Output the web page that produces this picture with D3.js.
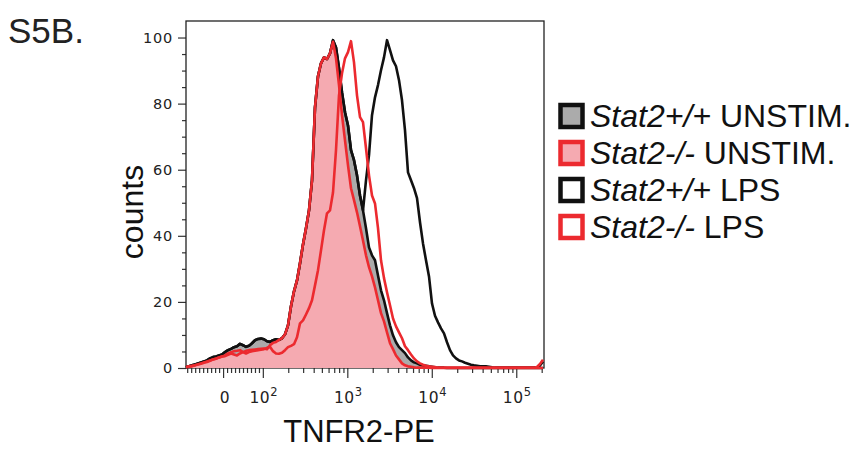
<!DOCTYPE html>
<html><head><meta charset="utf-8">
<script src="https://cdn.jsdelivr.net/npm/d3@7"></script>
<style>body{margin:0;background:#fff}svg{display:block}</style>
</head><body>
<svg id="chart" width="854" height="449"></svg>
<script>
// ---- data (counts per display channel, 3px-wide channels across the logicle axis) ----
const seriesNames = ["Stat2+/+ UNSTIM.", "Stat2-/- UNSTIM.", "Stat2+/+ LPS", "Stat2-/- LPS"];
const genotypes = ["Stat2+/+", "Stat2-/-", "Stat2+/+", "Stat2-/-"];
const conditions = [" UNSTIM.", " UNSTIM.", " LPS", " LPS"];

const wtUnstim = [0.2,0.5,0.8,1.1,1.4,1.7,2.0,2.3,2.9,3.3,3.5,3.8,4.1,4.8,5.4,5.8,6.3,6.6,7.3,6.9,
 6.4,6.7,7.5,8.4,8.8,8.9,8.7,8.1,7.9,8.4,8.7,8.5,9.0,10.2,12.9,18.7,23.2,26.5,31.7,37.4,
 42.3,47.7,56.8,78.9,88.3,92.2,94.0,93.5,95.2,99.2,97.0,90.7,83.4,77.4,73.4,65.9,62.9,58.3,52.2,47.7,
 42.3,36.5,34.1,32.6,28.0,23.5,20.5,16.6,12.9,9.9,7.8,6.3,5.4,4.5,3.2,2.3,1.7,1.4,1.0,0.8,
 0.7,0.5,0.4,0.2,0.1,0.1,0.1,0,0,0,0,0,0,0,0,0,0,0,0,0,
 0,0,0,0,0,0,0,0,0,0,0,0,0,0,0,0,0,0,0,0];
const koUnstim = [0.3,0.5,0.7,0.8,1.1,1.3,1.6,1.8,2.2,2.6,2.8,3.2,3.5,3.6,4.0,4.4,4.1,3.8,4.4,4.8,
 5.2,5.4,5.5,5.6,5.7,5.8,5.9,5.7,6.9,7.6,7.9,8.5,9.0,10.2,12.9,18.7,23.2,26.5,31.7,37.4,
 42.3,47.7,56.8,78.9,88.3,92.2,94.0,93.5,95.2,98.7,93.7,85.6,76.5,68.9,61.3,54.4,50.8,47.1,42.9,38.6,
 34.1,30.5,27.7,24.4,20.5,16.6,14.1,10.8,7.5,5.7,3.8,2.6,1.4,0.8,0.5,0.4,0.2,0.1,0.1,0.1,
 0.1,0.1,0,0,0,0,0,0,0,0,0,0,0,0,0,0,0,0,0,0,
 0,0,0,0,0,0,0,0,0,0,0,0,0,0,0,0,0,0,0,0];
const wtLps = [0.2,0.5,0.8,1.1,1.4,1.7,2.0,2.3,2.9,3.3,3.5,3.8,4.1,4.8,5.4,5.8,6.3,6.6,7.3,6.9,
 6.4,6.7,7.5,8.4,8.8,8.9,8.7,8.1,7.9,8.4,8.7,8.5,9.0,10.2,12.9,18.7,23.2,26.5,31.7,37.4,
 42.3,47.7,56.8,78.9,88.3,92.2,94.0,93.5,95.2,99.2,97.0,90.7,83.4,77.4,73.4,65.9,62.9,58.3,52.2,47.7,
 56.8,64.4,76.5,81.9,85.6,90.1,94.0,99.2,96.2,93.1,91.3,87.1,81.0,71.9,59.2,56.8,54.4,51.4,44.1,37.7,
 32.6,27.7,19.5,15.8,13.8,12.0,10.5,7.8,5.4,3.8,2.9,2.3,2.0,1.6,1.3,1.0,0.8,0.7,0.5,0.5,
 0.5,0.4,0.2,0.1,0.1,0.1,0.1,0.1,0.1,0.1,0.1,0.1,0.1,0.1,0.1,0.1,0.1,0.1,0.8,2.0];
const koLps = [0.2,0.4,0.5,0.8,1.1,1.4,1.7,2.0,2.3,2.6,2.9,3.2,3.5,3.8,4.4,4.8,5.1,5.2,5.4,4.8,
 4.4,4.8,5.1,5.2,5.4,5.5,5.7,6.1,6.4,5.1,4.4,4.3,4.6,5.4,6.3,6.7,7.2,9.3,13.5,14.4,
 16.2,18.1,20.5,25.0,29.6,35.6,41.7,46.8,47.7,53.1,65.9,82.5,89.2,93.7,95.6,98.9,92.5,82.5,75.9,74.4,
 66.5,58.3,52.2,49.8,42.3,32.6,27.2,22.9,19.0,15.0,12.6,10.8,9.0,6.6,5.4,4.1,2.9,2.0,1.4,1.0,
 0.7,0.5,0.4,0.3,0.1,0.1,0.1,0.1,0.1,0.1,0.1,0.1,0.1,0.1,0.1,0.1,0.1,0.1,0.1,0.1,
 0.1,0.1,0.1,0.1,0.1,0.1,0.1,0.1,0.1,0.1,0.1,0.1,0.1,0.1,0.1,0.1,0.1,0.3,1.2,2.5];

const yMajorTicks = [0, 20, 40, 60, 80, 100];
const yMinorTicks = [5, 10, 15, 25, 30, 35, 45, 50, 55, 65, 70, 75, 85, 90, 95];
const xMajorTicks = [0, 100, 1000, 10000, 100000];
const xMajorLabels = [["0", ""], ["10", "2"], ["10", "3"], ["10", "4"], ["10", "5"]];
const xMinorTicks = [-90,-80,-70,-60,-50,-40,-30,-20,-10,10,20,30,40,50,60,70,80,90,
  200,300,400,500,600,700,800,900,2000,3000,4000,5000,6000,7000,8000,9000,
  20000,30000,40000,50000,60000,70000,80000,90000,200000];

// ---- layout ----
const svg = d3.select("#chart");
const L = {left: 186, right: 544, top: 21, bottom: 368};
const RED = "#ec2a2f", PINK = "#f5aab1", GRAY = "#ababab", BLACK = "#111";

// logicle-like display transform (linear near zero, logarithmic above)
const LIN = 92;
function disp(v) {
  const a = Math.abs(v);
  const t = a <= LIN ? a / (LIN * Math.LN10) : 1 / Math.LN10 + Math.log10(a / LIN);
  return Math.sign(v) * t;
}
const xAxisScale = d3.scaleLinear().domain([disp(-93), disp(213000)]).range([L.left, L.right]);
const xChan = d3.scaleLinear().domain([0, (L.right - L.left) / 3]).range([L.left, L.right]);
const y = d3.scaleLinear().domain([0, 105]).range([L.bottom, L.top]);

const area = d3.area().x((d, i) => xChan(i)).y0(y(0)).y1(d => y(d));
const line = d3.line().x((d, i) => xChan(i)).y(d => y(d));

const plot = svg.append("g");
plot.append("path").datum(wtUnstim).attr("d", area).attr("fill", GRAY);
plot.append("path").datum(koUnstim).attr("d", area).attr("fill", PINK);

// axes
const yAxisG = svg.append("g").attr("transform", `translate(${L.left},0)`);
yAxisG.call(d3.axisLeft(y).tickValues(yMinorTicks).tickSize(4).tickFormat(""));
yAxisG.call(g => g.select(".domain").remove());
const yMaj = svg.append("g").attr("transform", `translate(${L.left},0)`)
  .call(d3.axisLeft(y).tickValues(yMajorTicks).tickSize(8).tickPadding(5));
yMaj.select(".domain").remove();
yMaj.selectAll("text").attr("font-family", "DejaVu Sans, sans-serif").attr("font-size", 14.5)
  .attr("letter-spacing", "0.8px").attr("fill", "#222");

const xMin = svg.append("g").attr("transform", `translate(0,${L.bottom})`)
  .call(d3.axisBottom(xAxisScale).tickValues(xMinorTicks.map(disp)).tickSize(5).tickFormat(""));
xMin.select(".domain").remove();
const xMaj = svg.append("g").attr("transform", `translate(0,${L.bottom})`)
  .call(d3.axisBottom(xAxisScale).tickValues(xMajorTicks.map(disp)).tickSize(10).tickFormat(""));
xMaj.select(".domain").remove();
svg.selectAll(".tick line").attr("stroke", "#333").attr("stroke-width", 1.2);

xMajorTicks.forEach((v, i) => {
  const t = svg.append("text").attr("x", xAxisScale(disp(v)) + (xMajorLabels[i][1] ? 1 : 2)).attr("y", 403)
    .attr("text-anchor", "middle").attr("font-family", "DejaVu Sans, sans-serif")
    .attr("font-size", 15.5).attr("letter-spacing", "0.6px").attr("fill", "#222");
  t.append("tspan").text(xMajorLabels[i][0]);
  if (xMajorLabels[i][1]) t.append("tspan").attr("dy", -7.5).attr("font-size", 11.5).text(xMajorLabels[i][1]);
});

// frame
svg.append("rect").attr("x", L.left).attr("y", L.top).attr("width", L.right - L.left)
  .attr("height", L.bottom - L.top).attr("fill", "none").attr("stroke", "#222").attr("stroke-width", 1.3);

// outlines (black first, red on top)
[[wtUnstim, BLACK], [wtLps, BLACK], [koUnstim, RED], [koLps, RED]].forEach(([d, c]) => {
  plot.append("path").datum(d).attr("d", line).attr("fill", "none").attr("stroke", c)
    .attr("stroke-width", 2.6).attr("stroke-linejoin", "round");
});
plot.raise();

// titles
svg.append("text").attr("x", 8).attr("y", 43).attr("font-family", "Liberation Sans, Arial, sans-serif")
  .attr("font-size", 35).attr("fill", "#222").text("S5B.");
svg.append("text").attr("transform", "translate(143,212) rotate(-90)").attr("text-anchor", "middle")
  .attr("font-family", "Liberation Sans, Arial, sans-serif").attr("font-size", 32).attr("fill", "#111").text("counts");
svg.append("text").attr("x", 359).attr("y", 442).attr("text-anchor", "middle")
  .attr("font-family", "Liberation Sans, Arial, sans-serif").attr("font-size", 31).attr("fill", "#111").text("TNFR2-PE");

// legend
const legFill = [GRAY, PINK, "#fff", "#fff"];
const legStroke = [BLACK, RED, BLACK, RED];
const legY = [116, 153, 190, 227];
seriesNames.forEach((n, i) => {
  svg.append("rect").attr("x", 560.5).attr("y", legY[i] - 11).attr("width", 22).attr("height", 22)
    .attr("fill", legFill[i]).attr("stroke", legStroke[i]).attr("stroke-width", 4.5);
  const t = svg.append("text").attr("x", 590).attr("y", legY[i] + 11)
    .attr("font-family", "Liberation Sans, Arial, sans-serif").attr("font-size", 32).attr("fill", "#111");
  t.append("tspan").attr("font-style", "italic").text(genotypes[i]);
  t.append("tspan").text(conditions[i]);
});
</script>
</body></html>
